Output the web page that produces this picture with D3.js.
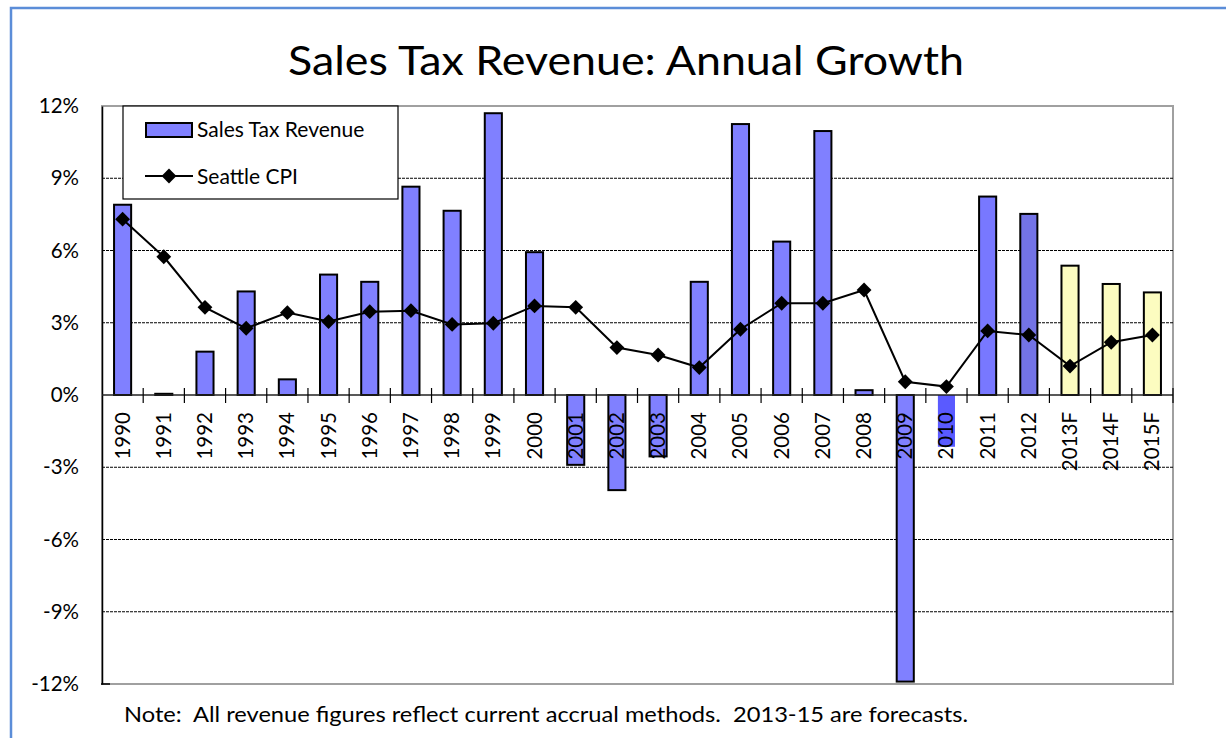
<!DOCTYPE html>
<html><head><meta charset="utf-8">
<script src="https://cdn.jsdelivr.net/npm/d3@7"></script>
<style>html,body{margin:0;padding:0;background:#fff;}svg{display:block;font-family:Lato,"Open Sans",sans-serif;}</style>
</head><body><svg id="c" width="1226" height="738"></svg>
<script>
const categories = ["1990","1991","1992","1993","1994","1995","1996","1997","1998","1999","2000","2001","2002","2003","2004","2005","2006","2007","2008","2009","2010","2011","2012","2013F","2014F","2015F"];
const salesTaxRevenue = [7.9,0.05,1.8,4.3,0.65,5.0,4.7,8.65,7.65,11.7,5.93,-2.9,-3.95,-2.55,4.7,11.25,6.37,10.96,0.2,-11.9,-2.15,8.24,7.52,5.37,4.61,4.26];
const seattleCPI = [7.3,5.74,3.64,2.77,3.42,3.05,3.46,3.5,2.93,2.98,3.7,3.64,1.97,1.66,1.14,2.73,3.81,3.81,4.36,0.55,0.35,2.66,2.49,1.2,2.19,2.49];
const yTicks = [-12,-9,-6,-3,0,3,6,9,12];
const forecastCategories = ["2013F","2014F","2015F"];
const titleText = "Sales Tax Revenue: Annual Growth";
const noteText = "Note:  All revenue figures reflect current accrual methods.  2013-15 are forecasts.";
const seriesNames = ["Sales Tax Revenue","Seattle CPI"];

const svg = d3.select("#c");
const L=102, R=1173, T=106, B=684;
const y = d3.scaleLinear().domain([-12,12]).range([B,T]);
const x = d3.scaleBand().domain(categories).range([L,R]).paddingInner(0.585).paddingOuter(0.2925);
const step = x.step();

// outer frame
svg.append("rect").attr("x",11).attr("y",8).attr("width",1400).attr("height",900)
  .attr("fill","#fff").attr("stroke","#5b8dd8").attr("stroke-width",2.5);

// title
svg.append("text").attr("x",626).attr("y",75).attr("text-anchor","middle")
  .attr("font-size",40).attr("fill","#000").attr("textLength",676).attr("lengthAdjust","spacingAndGlyphs").text(titleText);

// plot area border
svg.append("rect").attr("x",L).attr("y",T).attr("width",R-L).attr("height",B-T)
  .attr("fill","#fff").attr("stroke","#a0a0a0").attr("stroke-width",2);

// gridlines
svg.append("g").selectAll("line").data(yTicks.filter(d=>d!==0 && Math.abs(d)!==12)).join("line")
  .attr("x1",L).attr("x2",R).attr("y1",d=>y(d)).attr("y2",d=>y(d))
  .attr("stroke","#000").attr("stroke-width",1).attr("stroke-dasharray","3,1");

// y axis
const yAxis = d3.axisLeft(y).tickValues(yTicks).tickFormat(d=>d+"%").tickSize(0).tickPadding(23);
const yg = svg.append("g").attr("transform",`translate(${L},0)`).call(yAxis);
yg.select(".domain").attr("stroke","#000").attr("stroke-width",1.5);
yg.selectAll("text").attr("font-size",20.5).attr("font-family","Lato").attr("fill","#000");
svg.append("line").attr("x1",L-1).attr("x2",L+8).attr("y1",B).attr("y2",B).attr("stroke","#000").attr("stroke-width",1.5);

function fillFor(c){
  if (forecastCategories.includes(c)) return "#fcfcc0";
  if (c==="2010") return "#5a5aff";
  if (c==="2011") return "#7878ff";
  if (c==="2012") return "#7373e6";
  return "#8080ff";
}
// bars
svg.append("g").selectAll("rect").data(categories.map((c,i)=>({c,v:salesTaxRevenue[i]}))).join("rect")
  .attr("x",d=>x(d.c)).attr("width",x.bandwidth())
  .attr("y",d=>y(Math.max(0,d.v))).attr("height",d=>Math.abs(y(d.v)-y(0)))
  .attr("fill",d=>fillFor(d.c))
  .attr("stroke",d=>d.c==="2010"?"none":"#000").attr("stroke-width",2);

// x axis line and cross ticks
svg.append("line").attr("x1",L).attr("x2",R).attr("y1",y(0)).attr("y2",y(0)).attr("stroke","#222").attr("stroke-width",1.5);
svg.append("g").selectAll("line").data(d3.range(1,categories.length+1)).join("line")
  .attr("x1",i=>L+i*step).attr("x2",i=>L+i*step).attr("y1",y(0)-7).attr("y2",y(0)+8)
  .attr("stroke","#000").attr("stroke-width",1.2);

// x labels
svg.append("g").selectAll("text").data(categories).join("text")
  .attr("transform",c=>`translate(${x(c)+x.bandwidth()/2+7},${y(0)+17}) rotate(-90)`)
  .attr("text-anchor","end").attr("font-size",20.5).attr("fill","#000").text(c=>c);

// CPI line
const line = d3.line().x((d,i)=>x(categories[i])+x.bandwidth()/2).y(d=>y(d));
svg.append("path").datum(seattleCPI).attr("d",line).attr("fill","none").attr("stroke","#000").attr("stroke-width",2);
svg.append("g").selectAll("path").data(seattleCPI).join("path")
  .attr("d",d3.symbol().type(d3.symbolSquare).size(110))
  .attr("transform",(d,i)=>`translate(${x(categories[i])+x.bandwidth()/2},${y(d)}) rotate(45)`)
  .attr("fill","#000");

// legend
const lg = svg.append("g");
lg.append("rect").attr("x",123).attr("y",106).attr("width",275).attr("height",93).attr("fill","#fff").attr("stroke","#000").attr("stroke-width",1.2);
lg.append("rect").attr("x",146).attr("y",123).attr("width",46).attr("height",14).attr("fill","#8080ff").attr("stroke","#000").attr("stroke-width",2);
lg.append("text").attr("x",197).attr("y",137).attr("font-size",21).attr("fill","#000").text(seriesNames[0]);
lg.append("line").attr("x1",145).attr("x2",193).attr("y1",176).attr("y2",176).attr("stroke","#000").attr("stroke-width",2);
lg.append("path").attr("d",d3.symbol().type(d3.symbolSquare).size(110)).attr("transform","translate(169,176) rotate(45)").attr("fill","#000");
lg.append("text").attr("x",197).attr("y",184).attr("font-size",21).attr("fill","#000").text(seriesNames[1]);

// note
svg.append("text").attr("x",124).attr("y",722).attr("font-size",21).attr("fill","#000")
  .attr("textLength",844).attr("lengthAdjust","spacingAndGlyphs").style("white-space","pre").text(noteText);
</script></body></html>
